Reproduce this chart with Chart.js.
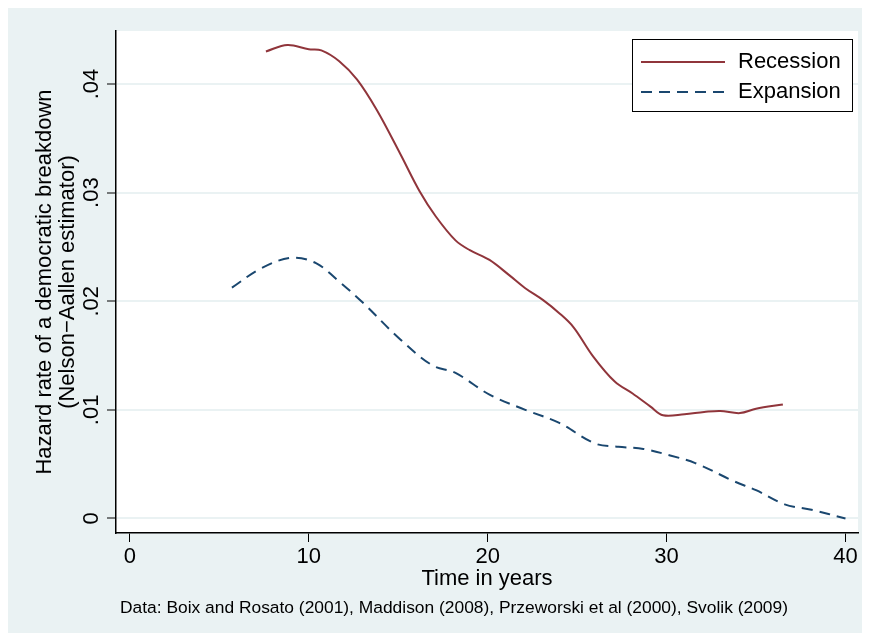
<!DOCTYPE html>
<html>
<head>
<meta charset="utf-8">
<script src="https://cdn.jsdelivr.net/npm/chart.js@4"></script>
<style>
  html, body { margin: 0; padding: 0; background: #fff; }
  #panel { position: absolute; left: 8px; top: 8px; width: 854px; height: 625px; background: #eaf2f3; }
</style>
</head>
<body>
<div id="panel"><canvas id="chart" width="854" height="625"></canvas></div>
<script>
// Tick positions and labels
const xTicks = [0, 10, 20, 30, 40];
const yTicks = [0, 0.01, 0.02, 0.03, 0.04];
const yTickLabels = ['0', '.01', '.02', '.03', '.04'];

// Recession series (years, hazard)
const recessionYears = [7.6, 8.8, 10.0, 10.7, 11.7, 12.7, 13.8, 15.1, 16.2, 17.1, 18.2, 19.0, 20.1, 21.2, 22.1, 23.1, 24.0, 24.8, 25.9, 27.1, 28.1, 29.1, 29.8, 31.0, 32.1, 33.0, 34.1, 35.0, 36.5];
const recessionHazard = [0.0430, 0.0436, 0.0432, 0.0431, 0.0421, 0.0404, 0.0376, 0.0336, 0.0301, 0.0278, 0.0256, 0.0247, 0.0238, 0.0224, 0.0212, 0.0201, 0.0189, 0.0176, 0.0149, 0.0126, 0.0115, 0.0103, 0.0095, 0.0096, 0.0098, 0.0099, 0.0097, 0.0101, 0.0105];

// Expansion series (years, hazard)
const expansionYears = [5.7, 7.3, 9.0, 10.4, 11.7, 13.0, 15.1, 16.9, 18.2, 20.1, 22.1, 24.0, 26.0, 27.3, 28.7, 30.2, 31.6, 33.8, 35.0, 36.6, 38.1, 40.0];
const expansionHazard = [0.02125, 0.0230, 0.0240, 0.0235, 0.0218, 0.0199, 0.0165, 0.0141, 0.0134, 0.0114, 0.0100, 0.0088, 0.0069, 0.0066, 0.0064, 0.0058, 0.0051, 0.0034, 0.0026, 0.0013, 0.0008, 0.0000];

const seriesNames = ['Recession', 'Expansion'];
const yTitle = ['Hazard rate of a democratic breakdown', '(Nelson\u2212Aallen estimator)'];
const xTitle = 'Time in years';
const caption = 'Data: Boix and Rosato (2001), Maddison (2008), Przeworski et al (2000), Svolik (2009)';

const FONT = '"Liberation Sans", Arial, Helvetica, sans-serif';

function toPoints(xs, ys) {
    return xs.map((x, i) => ({ x: x, y: ys[i] }));
}

// Fond blanc de la zone de tracé + légende encadrée + source
const stataLook = {
    id: 'stataLook',
    beforeDraw(chart) {
        const { ctx, chartArea: a } = chart;
        ctx.save();
        ctx.fillStyle = '#ffffff';
        ctx.fillRect(a.left, a.top, a.right - a.left, a.bottom - a.top);
        ctx.restore();
    },
    afterDraw(chart) {
        const ctx = chart.ctx;
        ctx.save();
        // legend box
        const bx = 624, by = 31, bw = 220, bh = 72;
        ctx.fillStyle = '#ffffff';
        ctx.fillRect(bx, by, bw, bh);
        ctx.strokeStyle = '#000000';
        ctx.lineWidth = 1;
        ctx.strokeRect(bx + 0.5, by + 0.5, bw, bh);
        chart.data.datasets.forEach((ds, i) => {
            const y = by + 23 + i * 30;
            ctx.strokeStyle = ds.borderColor;
            ctx.lineWidth = ds.borderWidth;
            ctx.setLineDash(ds.borderDash || []);
            ctx.beginPath();
            ctx.moveTo(bx + 9, y);
            ctx.lineTo(bx + 93, y);
            ctx.stroke();
            ctx.setLineDash([]);
            ctx.fillStyle = '#000000';
            ctx.font = '22px ' + FONT;
            ctx.textBaseline = 'middle';
            ctx.textAlign = 'left';
            ctx.fillText(ds.label, bx + 106, y);
        });
        // caption
        ctx.fillStyle = '#000000';
        ctx.font = '17.4px ' + FONT;
        ctx.textBaseline = 'middle';
        ctx.textAlign = 'left';
        ctx.fillText(caption, 112, 600);
        ctx.restore();
    }
};

new Chart(document.getElementById('chart'), {
    type: 'line',
    data: {
        datasets: [
            {
                label: seriesNames[0],
                data: toPoints(recessionYears, recessionHazard),
                borderColor: '#90353b',
                borderWidth: 2,
                pointRadius: 0,
                tension: 0.35,
                fill: false
            },
            {
                label: seriesNames[1],
                data: toPoints(expansionYears, expansionHazard),
                borderColor: '#1a476f',
                borderWidth: 2,
                borderDash: [11, 7],
                pointRadius: 0,
                tension: 0.35,
                fill: false
            }
        ]
    },
    options: {
        responsive: false,
        animation: false,
        layout: { padding: { left: 0, top: 23, right: 4, bottom: 0 } },
        plugins: {
            legend: { display: false },
            tooltip: { enabled: false }
        },
        scales: {
            x: {
                type: 'linear',
                min: -0.78,
                max: 40.7,
                afterBuildTicks: s => { s.ticks = xTicks.map(v => ({ value: v })); },
                afterFit: s => { s.height = 100; },
                grid: { drawOnChartArea: false, drawTicks: true, tickLength: 9, tickColor: '#000', tickWidth: 1 },
                border: { display: true, color: '#000', width: 1.5 },
                ticks: { color: '#000', font: { family: FONT, size: 22 }, padding: 2, maxRotation: 0 },
                title: {
                    display: true, text: xTitle, color: '#000',
                    font: { family: FONT, size: 22 }, padding: { top: 0, bottom: 41 }
                }
            },
            y: {
                min: -0.00134,
                max: 0.04488,
                afterBuildTicks: s => { s.ticks = yTicks.map(v => ({ value: v })); },
                afterFit: s => { s.width = 108; },
                grid: { color: '#eaf2f3', lineWidth: 2, drawTicks: true, tickLength: 9, tickColor: '#000', tickWidth: 1 },
                border: { display: true, color: '#000', width: 1.5 },
                ticks: {
                    color: '#000', font: { family: FONT, size: 22 }, padding: 0,
                    minRotation: 90, maxRotation: 90, crossAlign: 'center',
                    callback: (v, i) => yTickLabels[i]
                },
                title: {
                    display: true, text: yTitle, color: '#000',
                    font: { family: FONT, size: 22, lineHeight: 1.05 }, padding: { top: 25, bottom: 0 }
                }
            }
        }
    },
    plugins: [stataLook]
});
</script>
</body>
</html>
